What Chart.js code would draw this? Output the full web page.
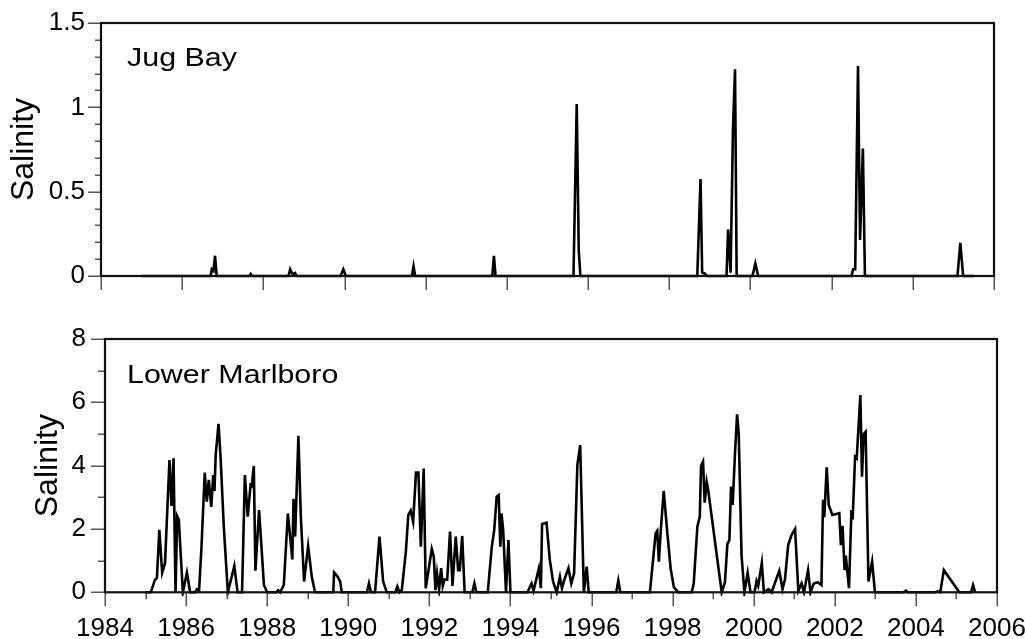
<!DOCTYPE html>
<html><head><meta charset="utf-8">
<script src="https://cdn.jsdelivr.net/npm/chart.js@4.4.0/dist/chart.umd.min.js"></script>
<style>
html,body{margin:0;padding:0;background:#fff;}
#wrap{position:relative;width:1025px;height:639px;overflow:hidden;}
canvas{position:absolute;left:0;}
</style></head><body>
<div id="wrap">
<canvas id="c1" width="1025" height="320" style="top:0px"></canvas>
<canvas id="c2" width="1025" height="319" style="top:320px"></canvas>
</div>
<script>
// ---------- data ----------
const xTickValues = [1984,1986,1988,1990,1992,1994,1996,1998,2000,2002,2004,2006];
const xTickLabels = ['1984','1986','1988','1990','1992','1994','1996','1998','2000','2002','2004','2006'];

const jugTitle = 'Jug Bay';
const jugYTickValues = [0,0.5,1,1.5];
const jugYTickLabels = ['0','0.5','1','1.5'];
const jugYears = [1985.0,1986.70,1986.73,1986.77,1986.81,1986.85,1987.66,1987.69,1987.72,
  1988.62,1988.66,1988.72,1988.78,1988.82,1989.90,1989.97,1990.03,1991.66,1991.70,1991.74,
  1993.64,1993.68,1993.72,1995.64,1995.72,1995.77,1995.81,
  1998.69,1998.77,1998.81,1998.87,1998.93,1999.41,1999.45,1999.51,1999.57,1999.62,1999.66,
  2000.05,2000.12,2000.19,2002.49,2002.53,2002.58,2002.65,2002.70,2002.77,2002.82,
  2005.10,2005.17,2005.24,2005.5];
const jugSalinity = [0,0,0.04,0.03,0.12,0,0,0.012,0,
  0,0.04,0.01,0.018,0,0,0.04,0,0,0.058,0,
  0,0.12,0,0,1.02,0.15,0,
  0,0.575,0.02,0.015,0,0,0.276,0.02,0.88,1.226,0,
  0,0.075,0,0,0.04,0.04,1.245,0.213,0.756,0,
  0,0.197,0,0];

const lmTitle = 'Lower Marlboro';
const lmYTickValues = [0,2,4,6,8];
const lmYTickLabels = ['0','2','4','6','8'];
const lmYears = [1985.0,1985.13,1985.23,1985.28,1985.34,1985.41,1985.48,1985.59,1985.64,1985.69,1985.74,1985.78,1985.82,1985.92,
  1986.02,1986.10,1986.22,1986.27,1986.32,1986.38,1986.46,1986.51,1986.56,1986.62,1986.67,1986.70,1986.73,1986.80,1986.85,1986.93,
  1987.03,1987.19,1987.27,1987.38,1987.45,1987.52,1987.59,1987.62,1987.67,1987.71,1987.80,1987.92,
  1988.0,1988.22,1988.27,1988.32,1988.41,1988.51,1988.62,1988.65,1988.69,1988.77,1988.83,1988.91,
  1989.01,1989.10,1989.18,1989.63,1989.65,1989.74,1989.80,1989.84,
  1990.46,1990.51,1990.56,1990.66,1990.77,1990.86,1990.95,
  1991.16,1991.21,1991.26,1991.32,1991.42,1991.48,1991.54,1991.60,1991.67,1991.73,1991.79,1991.86,1991.91,
  1992.06,1992.11,1992.15,1992.19,1992.24,1992.29,1992.33,1992.37,1992.44,1992.51,1992.57,1992.65,1992.71,1992.75,1992.81,1992.87,
  1993.06,1993.11,1993.16,1993.44,1993.54,1993.60,1993.66,1993.71,1993.75,1993.78,1993.82,1993.89,1993.95,
  1994.00,1994.42,1994.52,1994.57,1994.70,1994.75,1994.78,1994.89,1994.97,
  1995.05,1995.14,1995.22,1995.27,1995.33,1995.43,1995.50,1995.57,1995.65,1995.72,1995.81,1995.88,1995.93,
  1996.61,1996.66,1996.71,1997.44,1997.58,1997.62,1997.66,1997.71,1997.78,1997.87,1997.95,
  1998.03,1998.14,1998.47,1998.52,1998.61,1998.67,1998.70,1998.75,1998.79,1998.84,1998.88,
  1999.21,1999.29,1999.35,1999.40,1999.44,1999.48,1999.54,1999.59,1999.63,1999.70,1999.77,1999.85,1999.92,
  2000.02,2000.07,2000.11,2000.20,2000.25,2000.36,2000.44,2000.63,2000.71,2000.77,2000.85,2000.93,
  2001.02,2001.10,2001.18,2001.24,2001.34,2001.40,2001.48,2001.58,2001.67,2001.71,2001.74,2001.80,2001.85,2001.94,
  2002.11,2002.15,2002.19,2002.24,2002.27,2002.35,2002.41,2002.44,2002.50,2002.54,2002.63,2002.67,2002.71,2002.76,2002.83,2002.92,2002.99,
  2003.70,2003.75,2003.80,2004.48,2004.53,2004.60,2004.69,2005.07,2005.36,2005.41,2005.46];
const lmSalinity = [0,0,0.39,0.45,1.97,0.62,0.92,4.18,2.73,4.23,0,2.41,2.3,0,
  0.62,0,0,0.1,0.05,1.44,3.78,2.86,3.55,2.7,3.7,3.2,4.34,5.32,4.28,2.07,
  0,0.83,0,0,3.7,2.39,3.39,3.36,3.99,0.68,2.6,0.23,
  0,0,0.07,0,0.23,2.49,1.04,2.95,1.76,4.94,2.39,0.34,
  1.46,0.49,0,0,0.63,0.49,0.34,0,
  0,0.28,0,0,1.76,0.34,0,
  0,0.18,0,0.07,1.28,2.44,2.58,2.23,3.78,3.78,1.44,3.91,0.13,
  1.37,1.12,0.07,0.6,0.1,0.76,0.2,0.4,0.4,1.92,0.2,1.76,0.7,0.7,1.78,0,
  0,0.28,0,0,1.44,1.97,3.02,3.07,1.44,2.49,1.97,0,1.65,
  0,0,0.28,0.05,0.76,0.13,2.16,2.2,1.03,
  0.34,0,0.49,0.13,0.4,0.76,0.28,0.6,4.02,4.65,0,0.81,0,
  0,0.37,0,0,1.86,1.94,0.97,2.0,3.2,1.86,0.76,
  0.16,0,0,0.28,2.07,2.39,3.99,4.13,2.83,3.49,3.2,
  0,0.32,1.52,1.65,3.34,2.76,4.44,5.62,5.02,1.16,0,0.62,0,
  0,0.35,0.2,0.93,0,0.1,0,0.68,0.1,0.4,1.49,1.8,
  2.0,0.05,0.28,0,0.7,0,0.28,0.32,0.23,2.92,2.37,3.95,2.76,2.44,
  2.5,1.49,2.1,0.7,1.16,0.13,2.6,2.3,4.28,4.23,6.23,3.65,5.0,5.07,0.34,0.97,0,
  0,0.05,0,0,0.03,0,0.7,0,0,0.23,0];

// ---------- drawing ----------
const FAMILY = '"Liberation Sans", Arial, Helvetica, sans-serif';

const decor = {
  id: 'decor',
  afterDraw(chart, args, o) {
    const ctx = chart.ctx, a = chart.chartArea, x = chart.scales.x, y = chart.scales.y;
    ctx.save();
    ctx.strokeStyle = '#555';
    ctx.lineWidth = 1.5;
    const nY = Math.round((y.max - y.min) / o.yMinor);
    for (let i = 0; i <= nY; i++) {
      const v = y.min + i * o.yMinor;
      const r = v / o.yMajor;
      const major = Math.abs(r - Math.round(r)) < 1e-6;
      const p = Math.round(y.getPixelForValue(v)) + 0.25;
      ctx.beginPath();
      ctx.moveTo(a.left, p);
      ctx.lineTo(a.left - (major ? o.yMajorLen : o.yMinorLen), p);
      ctx.stroke();
    }
    for (let v = 1984; v <= 2006; v++) {
      const major = (v % 2 === 0);
      if (!major && !o.xMinor) continue;
      const p = Math.round(x.getPixelForValue(v)) + 0.25;
      ctx.beginPath();
      ctx.moveTo(p, a.bottom);
      ctx.lineTo(p, a.bottom + (major ? o.xMajorLen : o.xMinorLen));
      ctx.stroke();
    }
    ctx.strokeStyle = '#111';
    ctx.lineWidth = 2.2;
    ctx.strokeRect(a.left, a.top, a.right - a.left, a.bottom - a.top);
    ctx.fillStyle = '#000';
    ctx.font = '26px ' + FAMILY;
    ctx.textBaseline = 'alphabetic';
    ctx.textAlign = 'left';
    ctx.translate(a.left + o.titleDX, a.top + o.titleDY);
    ctx.scale(1.17, 1);
    ctx.fillText(o.title, 0, 0);
    ctx.restore();
  }
};

function makeChart(id, xs, ys, yTickValues, yTickLabels, cfg) {
  const pts = xs.map((v, i) => ({x: v, y: ys[i]}));
  return new Chart(document.getElementById(id), {
    type: 'line',
    data: {datasets: [{data: pts, borderColor: '#000', borderWidth: 2.6, pointRadius: 0,
      tension: 0, fill: false, borderJoinStyle: 'miter', clip: 4}]},
    options: {
      responsive: false, animation: false, devicePixelRatio: 1,
      layout: {padding: {left: 0, right: cfg.padRight, top: cfg.padTop, bottom: 0}},
      plugins: {legend: {display: false}, tooltip: {enabled: false}, decor: cfg.decor},
      scales: {
        x: {
          type: 'linear', min: 1984, max: 2006,
          grid: {display: false, drawTicks: false}, border: {display: false},
          afterBuildTicks: s => { s.ticks = xTickValues.map(v => ({value: v})); },
          ticks: {display: cfg.xLabels, autoSkip: false, maxRotation: 0, minRotation: 0,
            callback: (v, i) => xTickLabels[i], color: '#000',
            font: {size: 26, family: FAMILY}, padding: cfg.xPad},
          afterFit: s => { s.height = cfg.xHeight; s.paddingLeft = 0; s.paddingRight = 0; }
        },
        y: {
          min: 0, max: cfg.yMax,
          grid: {display: false, drawTicks: false}, border: {display: false},
          afterBuildTicks: s => { s.ticks = yTickValues.map(v => ({value: v})); },
          ticks: {callback: (v, i) => yTickLabels[i], color: '#000',
            font: {size: 26, family: FAMILY}, padding: cfg.yPad},
          title: {display: true, text: 'Salinity', color: '#000',
            font: {size: 32, family: FAMILY}, padding: {top: cfg.titlePad, bottom: 0}},
          afterFit: s => { s.width = cfg.yWidth; s.paddingTop = 0; s.paddingBottom = 0; }
        }
      }
    },
    plugins: [decor]
  });
}

makeChart('c1', jugYears, jugSalinity, jugYTickValues, jugYTickLabels, {
  padRight: 31, padTop: 23, yWidth: 101, xHeight: 44, yMax: 1.5,
  xLabels: false, xPad: 10, yPad: 16, titlePad: 5,
  decor: {yMinor: 0.1, yMajor: 0.5, yMajorLen: 13, yMinorLen: 6,
    xMinor: false, xMajorLen: 14, xMinorLen: 7, title: jugTitle, titleDX: 26, titleDY: 43}
});

makeChart('c2', lmYears, lmSalinity, lmYTickValues, lmYTickLabels, {
  padRight: 28, padTop: 19, yWidth: 105, xHeight: 46.7, yMax: 8,
  xLabels: true, xPad: 21, yPad: 19, titlePad: 29,
  decor: {yMinor: 1, yMajor: 2, yMajorLen: 14, yMinorLen: 7,
    xMinor: true, xMajorLen: 14, xMinorLen: 7, title: lmTitle, titleDX: 22, titleDY: 44}
});
</script>
</body></html>
